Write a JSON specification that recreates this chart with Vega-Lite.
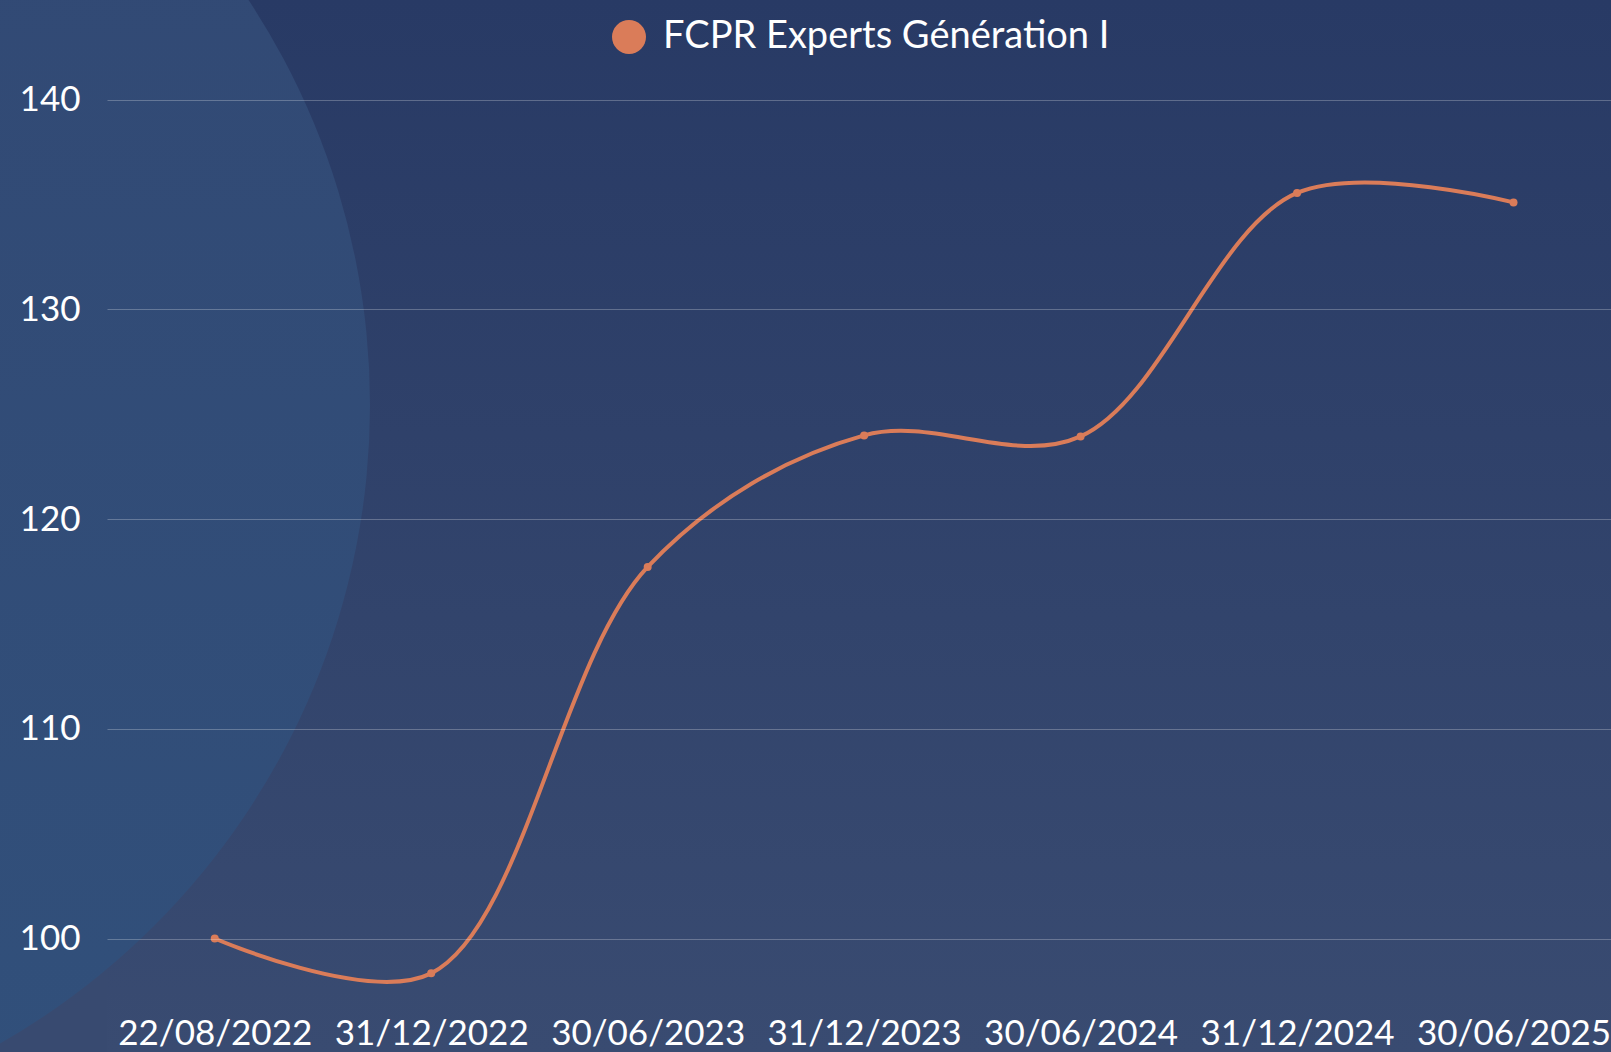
{
  "$schema": "https://vega.github.io/schema/vega-lite/v6.json",
  "width": 1504,
  "height": 1052,
  "autosize": {"type": "none"},
  "padding": {"left": 107, "top": 0, "right": 0, "bottom": 0},
  "background": "#384a70",
  "config": {
    "font": "Lato",
    "view": {
      "stroke": null,
      "fill": {
        "gradient": "linear",
        "x1": 0, "y1": 0, "x2": 0, "y2": 1,
        "stops": [
          {"offset": 0, "color": "#283a65"},
          {"offset": 1, "color": "#394b71"}
        ]
      }
    }
  },
  "data": {
    "values": [
      {"date": "22/08/2022", "value": 100.0, "series": "FCPR Experts Génération I"},
      {"date": "31/12/2022", "value": 98.34, "series": "FCPR Experts Génération I"},
      {"date": "30/06/2023", "value": 117.72, "series": "FCPR Experts Génération I"},
      {"date": "31/12/2023", "value": 123.99, "series": "FCPR Experts Génération I"},
      {"date": "30/06/2024", "value": 123.94, "series": "FCPR Experts Génération I"},
      {"date": "31/12/2024", "value": 135.55, "series": "FCPR Experts Génération I"},
      {"date": "30/06/2025", "value": 135.1, "series": "FCPR Experts Génération I"}
    ]
  },
  "layer": [
    {
      "data": {"values": [{"decoration": "halo"}]},
      "mark": {
        "type": "circle",
        "size": 2166784,
        "opacity": 1,
        "stroke": null,
        "fill": {
          "gradient": "linear",
          "x1": 0, "y1": 0, "x2": 0, "y2": 1,
          "stops": [
            {"offset": 0, "color": "#324873"},
            {"offset": 1, "color": "#31507b"}
          ]
        }
      },
      "encoding": {
        "x": {"datum": -0.3145, "type": "quantitative", "scale": {"domain": [0, 1]}, "axis": null},
        "y": {"datum": 0.615, "type": "quantitative", "scale": {"domain": [0, 1]}, "axis": null}
      }
    },
    {
      "layer": [
        {
          "mark": {"type": "line", "interpolate": "catmull-rom", "color": "#da7c59", "strokeWidth": 4, "strokeCap": "round"},
          "encoding": {
            "x": {
              "field": "date", "type": "ordinal", "sort": null,
              "scale": {"type": "point", "padding": 0.474, "align": 0.525},
              "axis": {
                "orient": "bottom", "offset": -8, "title": null, "domain": false, "ticks": false, "tickSize": 0,
                "labelPadding": 0, "labelAngle": 0, "labelFontSize": 35, "labelColor": "#ffffff",
                "labelFont": "Lato", "labelOverlap": false, "labelBaseline": "alphabetic", "labelLimit": 1000, "grid": false
              }
            },
            "y": {
              "field": "value", "type": "quantitative",
              "scale": {"domain": [94.59, 144.75], "nice": false, "zero": false},
              "axis": {
                "values": [100, 110, 120, 130, 140], "title": null, "domain": false, "ticks": false, "tickSize": 0,
                "labelPadding": 27, "labelFontSize": 35, "labelColor": "#ffffff", "labelFont": "Lato", "labelLimit": 1000,
                "grid": true, "gridColor": "#ffffff", "gridOpacity": 0.25, "gridWidth": 1, "zindex": 1
              }
            }
          }
        },
        {
          "mark": {"type": "point", "filled": true, "size": 64, "opacity": 1},
          "encoding": {
            "x": {"field": "date", "type": "ordinal", "sort": null},
            "y": {"field": "value", "type": "quantitative"},
            "color": {
              "field": "series", "type": "nominal",
              "scale": {"range": ["#da7c59"]},
              "legend": {
                "orient": "none", "legendX": 503, "legendY": 18, "title": null, "padding": 0,
                "symbolType": "circle", "symbolSize": 1156, "symbolStrokeWidth": 0, "symbolFillColor": "#da7c59",
                "labelFontSize": 38, "labelColor": "#ffffff", "labelFont": "Lato", "labelOffset": 15, "labelLimit": 1000
              }
            }
          }
        }
      ]
    }
  ],
  "resolve": {"scale": {"x": "independent", "y": "independent"}}
}
